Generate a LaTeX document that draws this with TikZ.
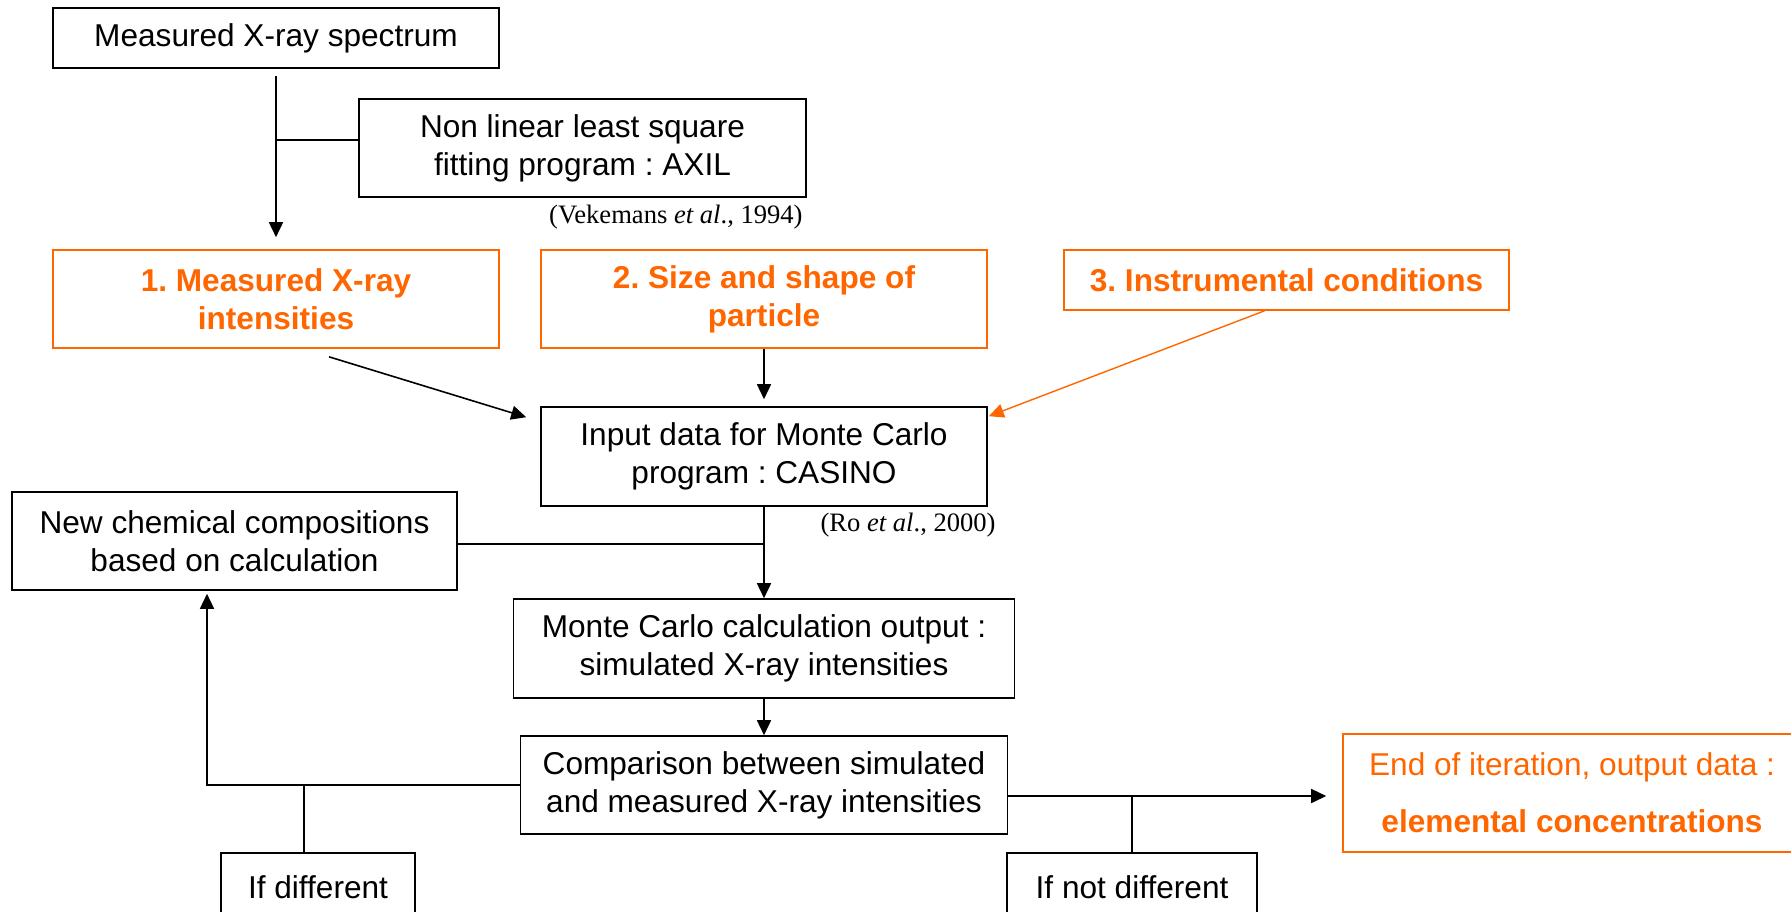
\documentclass[tikz,border=0pt]{standalone}
\usepackage{fontspec}
\setmainfont{Liberation Sans}
\newfontfamily\citefont{Liberation Serif}
\usepackage{xcolor}
\definecolor{orng}{RGB}{255,102,0}
\usetikzlibrary{positioning, calc, arrows.meta}
\frenchspacing
\tikzstyle{Box} = [
draw,
line width=.8pt,
inner sep=0pt,
align=center,
font=\fontsize{15.8}{19}\selectfont]
\tikzstyle{Given} = [Box, draw=orng, text=orng,
font=\fontsize{15.8}{19}\selectfont\bfseries]
\tikzstyle{Cite} = [inner sep=0pt, anchor=east,
font=\citefont\fontsize{13.3}{16}\selectfont]
\tikzstyle{Arrow} = [
line width=.8pt,
-{Triangle[length=7.5pt,width=7pt]}]

\begin{document}
\begin{tikzpicture}[x=0.5pt, y=-0.5pt]
        \useasboundingbox (0,0) rectangle (1791,911);

        \node[Box, minimum width=223pt, minimum height=30pt] (spectrum) at (276,38) {Measured X-ray spectrum};
        \node[Box, minimum width=223.5pt, minimum height=49pt] (axil) at (582.5,148) {Non linear least square\\fitting program : AXIL};
        \node[Cite] (vek) at (803,217) {(Vekemans \textit{et al}., 1994)};

        \node[Given, minimum width=223pt, minimum height=49pt] (meas) at (276,299) {1. Measured X-ray\\intensities};
        \node[Given, minimum width=223pt, minimum height=49pt] (size) at (764,299) {2. Size and shape of\\particle};
        \node[Given, minimum width=222.5pt, minimum height=30pt] (instr) at (1286.5,280) {3. Instrumental conditions};

        \node[Box, minimum width=223pt, minimum height=49.5pt] (input) at (764,456.5) {Input data for Monte Carlo\\program : CASINO};
        \node[Cite] (ro) at (996,525) {(Ro \textit{et al}., 2000)};
        \node[Box, minimum width=222.5pt, minimum height=49pt] (newcomp) at (234.5,541) {New chemical compositions\\based on calculation};
        \node[Box, minimum width=250.5pt, minimum height=49.5pt] (mcout) at (764,648.5) {Monte Carlo calculation output :\\simulated X-ray intensities};
        \node[Box, minimum width=243.5pt, minimum height=49pt] (compare) at (764,785) {Comparison between simulated\\and measured X-ray intensities};

        \node[Box, minimum width=97pt, minimum height=34pt] (ifdiff) at (318,887) {If different};
        \node[Box, minimum width=125pt, minimum height=34pt] (ifnot) at (1132,887) {If not different};
        \node[Box, draw=orng, text=orng, minimum width=229pt, minimum height=59pt] (endit) at (1572,793) {End of iteration, output data :\\[9.5pt]\textbf{elemental concentrations}};

        % top part
        \draw[Arrow, shorten <=3.5pt, shorten >=6pt] (spectrum) -- (meas);
        \path ([shift={(0,-8)}]axil.west) coordinate (j1);
        \draw[line width=.8pt] (j1) -- (j1 -| spectrum.south);

        \draw[Arrow] ([shift={(53,8)}]meas.south) -- ([shift={(-14,11)}]input.north west);
        \draw[Arrow, shorten >=3.5pt] (size) -- (input);
        \draw[Arrow, orng, line width=.7pt] ([shift={(-22,0)}]instr.south) -- ([shift={(1,10)}]input.north east);

        % iteration loop
        \draw[line width=.8pt] ([shift={(0,3)}]newcomp.east) -- ([shift={(0,3)}]newcomp.east -| input.south);
        \draw[Arrow] (input) -- (mcout);
        \draw[Arrow] (mcout) -- (compare);
        \draw[Arrow, shorten >=1.5pt] (compare.west) -| ([shift={(-27.5,0)}]newcomp.south);
        \draw[line width=.8pt] ([shift={(-14,0)}]ifdiff.north) |- (compare.west);

        % exit
        \path ([shift={(0,11)}]compare.east) coordinate (fout);
        \draw[Arrow, shorten >=8pt] (fout) -- (fout -| endit.west);
        \draw[line width=.8pt] (ifnot) -- (ifnot |- fout);
\end{tikzpicture}
\end{document}
